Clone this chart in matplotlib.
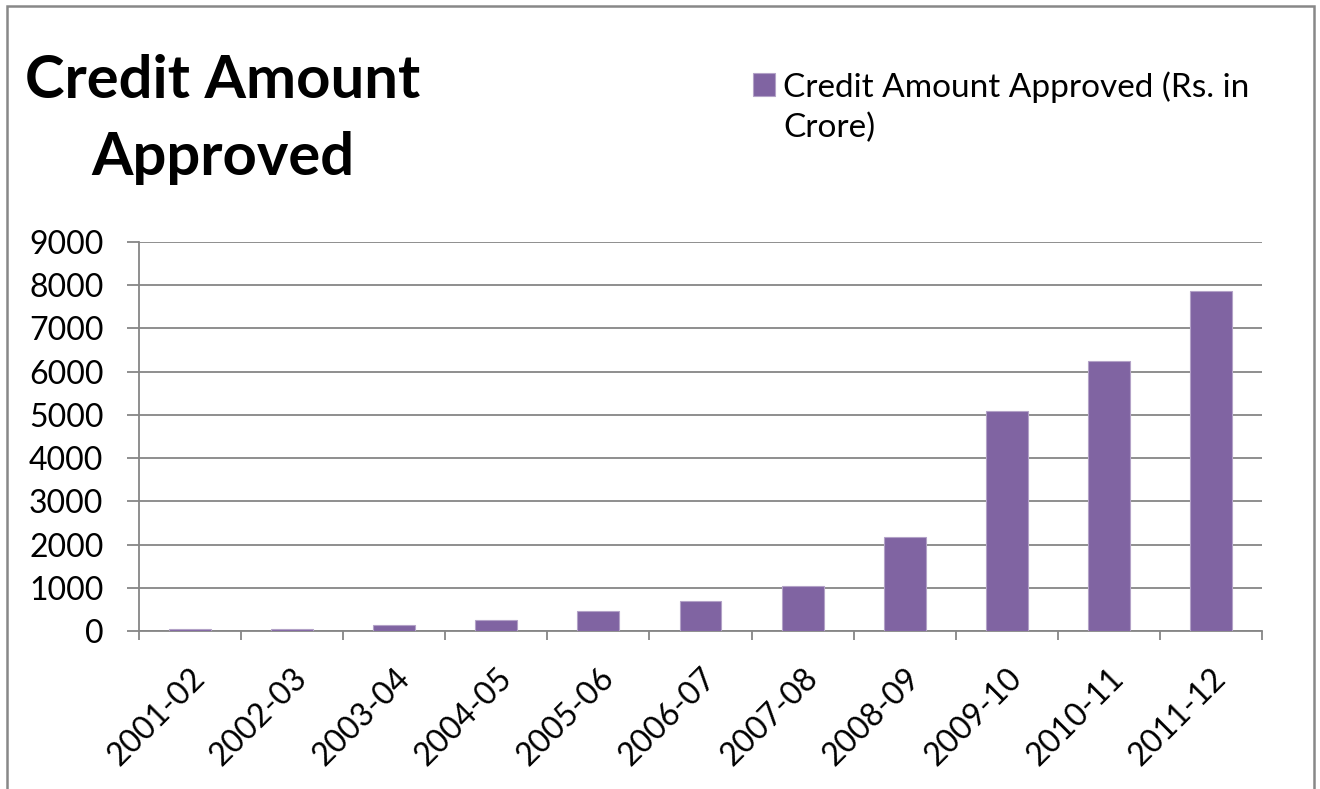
import matplotlib.pyplot as plt
import matplotlib.transforms as mtransforms
import numpy as np
from matplotlib.patches import Rectangle
from matplotlib.legend_handler import HandlerPatch

years = ['2001-02', '2002-03', '2003-04', '2004-05', '2005-06', '2006-07',
         '2007-08', '2008-09', '2009-10', '2010-11', '2011-12']
amount = [50, 50, 140, 250, 460, 695, 1045, 2175, 5095, 6255, 7855]
yticks = list(range(0, 9001, 1000))
series_name = 'Credit Amount Approved (Rs. in\nCrore)'

plt.rcParams['font.family'] = ['Lato', 'DejaVu Sans']

W, H = 1320, 789
fig = plt.figure(figsize=(W / 100, H / 100), dpi=100)
ax = fig.add_axes([139 / W, 1 - 631 / H, (1262 - 139) / W, (631 - 242) / H])

x = np.arange(len(years))
bars = ax.bar(x, amount, width=0.41, color='#8064A2', edgecolor='#B3A2C7',
              linewidth=0.8, zorder=3)

ax.set_xlim(-0.5, len(years) - 0.5)
ax.set_ylim(0, 9000)
ax.set_yticks(yticks)
ax.set_yticklabels([str(v) for v in yticks], fontsize=23)
ax.yaxis.grid(True, color='#868686', linewidth=1.3, zorder=0)

# tick marks between categories, labels under the bars
ax.set_xticks(np.arange(-0.5, len(years), 1.0))
ax.set_xticklabels([])
ax.set_xticks(x, minor=True)
ax.set_xticklabels(years, minor=True, rotation=45, ha='right', va='top',
                   rotation_mode='anchor', fontsize=23)
shift = mtransforms.ScaledTranslation(7 / 72, 0, fig.dpi_scale_trans)
for lab in ax.get_xticklabels(minor=True):
    lab.set_transform(lab.get_transform() + shift)
ax.tick_params(axis='x', which='minor', length=0, pad=23)
ax.tick_params(axis='x', which='major', length=6.5, width=1.3, color='#868686')
ax.tick_params(axis='y', length=8.6, width=1.3, color='#868686', pad=17)

for side in ['top', 'right']:
    ax.spines[side].set_visible(False)
for side in ['left', 'bottom']:
    ax.spines[side].set_color('#868686')
    ax.spines[side].set_linewidth(1.3)

fig.text(223 / W, 1 - 175 / H, 'Credit Amount\nApproved', ha='center',
         va='baseline', fontsize=43, fontweight='bold', linespacing=1.52)


def first_line_square(legend, orig_handle, xdescent, ydescent, width, height,
                      fontsize):
    # keep the swatch level with the first line of a two-line label
    lift = 0.675 * fontsize
    return Rectangle((-xdescent, -ydescent + lift), width, height)


leg = ax.legend(handles=[bars[0]], labels=[series_name],
                loc='upper left', bbox_to_anchor=(753 / W, 1 - 71 / H),
                bbox_transform=fig.transFigure, frameon=False, fontsize=24,
                handlelength=0.66, handleheight=0.66, handletextpad=0.24,
                borderpad=0, borderaxespad=0,
                handler_map={Rectangle: HandlerPatch(patch_func=first_line_square)})
for t in leg.get_texts():
    t.set_linespacing(1.4)

# outer chart frame, open at the bottom edge of the image
fig.patches.append(Rectangle((7 / W, -20 / H), 1307 / W, (H + 20 - 6) / H,
                             transform=fig.transFigure, fill=False,
                             edgecolor='#888888', linewidth=1.8))

fig.savefig('out.png', dpi=100)
